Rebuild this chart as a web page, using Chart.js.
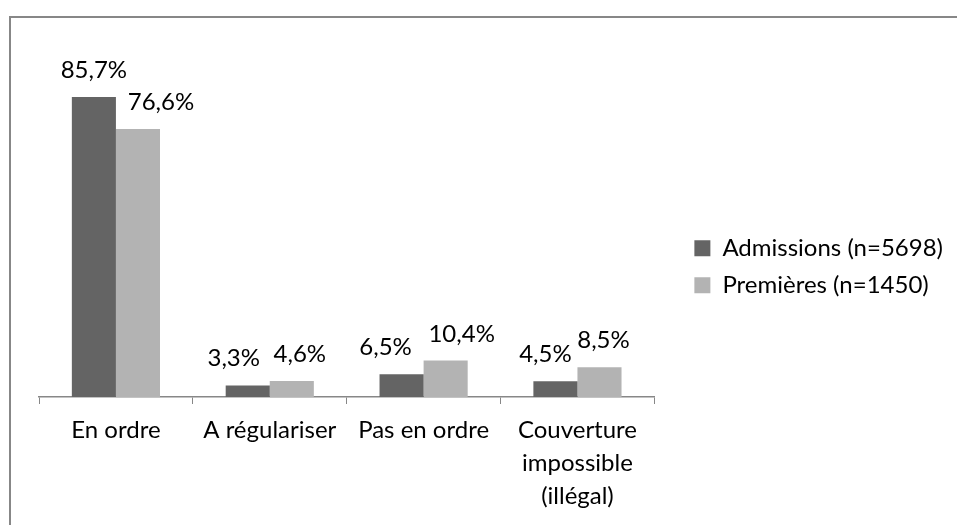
<!DOCTYPE html>
<html>
<head>
<meta charset="utf-8">
<script src="https://cdn.jsdelivr.net/npm/chart.js@4"></script>
<style>
    body { margin: 0; background: #fff; overflow: hidden; }
    #wrap { position: relative; width: 957px; height: 525px; }
    #frame {
        position: absolute; left: 9px; top: 16px;
        width: 1000px; height: 600px;
        border: 2px solid #878787;
    }
    #chart { position: absolute; left: 0; top: 0; }
</style>
</head>
<body>
<div id="wrap">
    <div id="frame"></div>
    <canvas id="chart" width="957" height="525"></canvas>
</div>
<script>
// --- data ---
const categories = ['En ordre', 'A régulariser', 'Pas en ordre', ['Couverture', 'impossible', '(illégal)']];
const seriesNames = ['Admissions (n=5698)', 'Premières (n=1450)'];
const admissions = [85.7, 3.3, 6.5, 4.5];
const premieres = [76.6, 4.6, 10.4, 8.5];

// label nudges (px) so neighbouring labels don't collide, like in the original
const labelShift = [
    [0, -14, -16, -10],
    [23, 8, 16, 4]
];

const FONT = 'Lato, "Open Sans", sans-serif';
const FS = 24;

const valueLabels = {
    id: 'valueLabels',
    afterDatasetsDraw(chart) {
        const ctx = chart.ctx;
        ctx.save();
        ctx.font = FS + 'px ' + FONT;
        ctx.fillStyle = '#000';
        ctx.textAlign = 'center';
        ctx.textBaseline = 'alphabetic';
        chart.data.datasets.forEach((ds, i) => {
            chart.getDatasetMeta(i).data.forEach((bar, j) => {
                const txt = ds.data[j].toFixed(1).replace('.', ',') + '%';
                ctx.fillText(txt, bar.x + labelShift[i][j], bar.y - 19);
            });
        });
        ctx.restore();
    }
};

new Chart(document.getElementById('chart'), {
    type: 'bar',
    data: {
        labels: categories,
        datasets: [
            { label: seriesNames[0], data: admissions, backgroundColor: '#646464' },
            { label: seriesNames[1], data: premieres, backgroundColor: '#b3b3b3' }
        ]
    },
    options: {
        responsive: false,
        animation: false,
        layout: { padding: { left: 39, top: 47, right: 4, bottom: 2 } },
        datasets: {
            bar: { categoryPercentage: 0.573, barPercentage: 1.0 }
        },
        scales: {
            x: {
                offset: true,
                grid: {
                    offset: true,
                    drawOnChartArea: false,
                    drawTicks: true,
                    tickLength: 7,
                    color: '#878787'
                },
                border: { display: true, color: '#878787', width: 1.5 },
                ticks: {
                    color: '#000',
                    padding: 10,
                    maxRotation: 0,
                    font: { family: FONT, size: FS, lineHeight: 1.375 }
                }
            },
            y: {
                position: 'right',
                min: 0,
                max: 100,
                grid: { display: false },
                border: { display: false },
                ticks: { display: false },
                // empty gutter between the plot and the legend
                afterFit(scale) { scale.width = 27; }
            }
        },
        plugins: {
            tooltip: { enabled: false },
            legend: {
                position: 'right',
                fullSize: false,
                maxWidth: 400,
                title: { display: true, text: '', padding: { top: 75, bottom: 0 } },
                labels: {
                    color: '#000',
                    boxWidth: 16,
                    boxHeight: 16,
                    padding: 13,
                    font: { family: FONT, size: FS }
                }
            }
        }
    },
    plugins: [valueLabels]
});
</script>
</body>
</html>
